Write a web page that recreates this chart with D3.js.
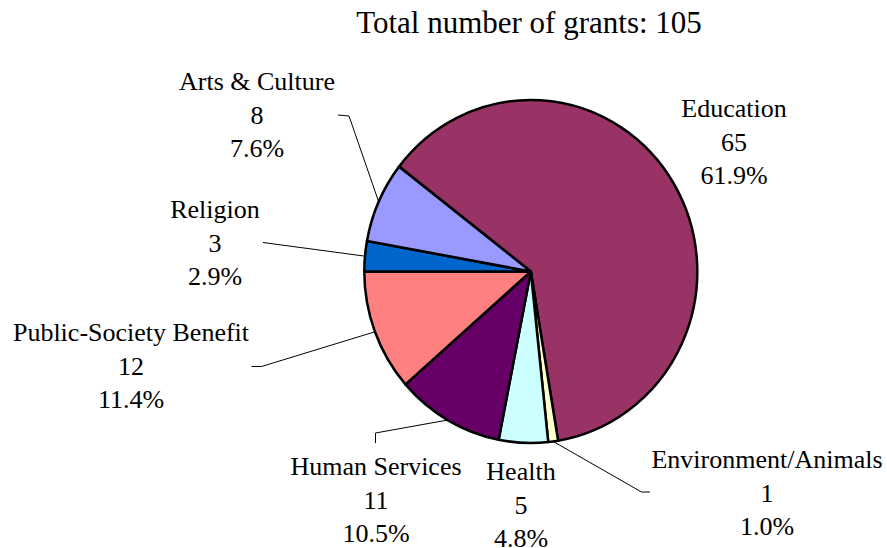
<!DOCTYPE html>
<html>
<head>
<meta charset="utf-8">
<script src="https://cdn.jsdelivr.net/npm/d3@7"></script>
</head>
<body style="margin:0">
<div id="chart"></div>
<script>
// Data
const categories = ["Education", "Environment/Animals", "Health", "Human Services", "Public-Society Benefit", "Religion", "Arts & Culture"];
const grants = [65, 1, 5, 11, 12, 3, 8];
const colors = ["#993366", "#FFFFCC", "#CCFFFF", "#660066", "#FF8080", "#0066CC", "#9999FF"];
const titleText = "Total number of grants: 105";

// Label layout: x center, first baseline, leader line (elbow + end), null = no leader
const labelPos = [
	{ x: 734, y: 117, leader: null },
	{ x: 767, y: 468, leader: [[641.5, 492], [650, 492]] },
	{ x: 521, y: 480, leader: null },
	{ x: 376, y: 475, leader: [[375.5, 433], [375.5, 443]] },
	{ x: 131, y: 341, leader: [[261.5, 366.5], [251.5, 366.5]] },
	{ x: 215, y: 218, leader: [[263, 242.5]] },
	{ x: 257, y: 90, leader: [[349, 116], [338, 115]] }
];

const width = 887, height = 548;
const cx = 530.8, cy = 271.5;
const rx = 166.5, ry = 171.5; // plot area is slightly taller than wide
const lineH = 33.5;

const svg = d3.select("#chart")
	.append("svg")
	.attr("width", width)
	.attr("height", height)
	.style("font-family", `"Times New Roman"`);

const total = d3.sum(grants);
const data = categories.map((c, i) => ({ name: c, value: grants[i], color: colors[i], pos: labelPos[i] }));

const startDeg = 307.7;
const pie = d3.pie()
	.sort(null)
	.value(d => d.value)
	.startAngle(startDeg * Math.PI / 180)
	.endAngle((startDeg + 360) * Math.PI / 180);

const arcs = pie(data);
const arc = d3.arc().innerRadius(0).outerRadius(rx);

const g = svg.append("g")
	.attr("transform", `translate(${cx},${cy}) scale(1,${ry / rx})`);

g.selectAll("path.slice")
	.data(arcs)
	.enter()
	.append("path")
	.attr("class", "slice")
	.attr("d", arc)
	.attr("fill", d => d.data.color)
	.attr("stroke", "#000")
	.attr("stroke-width", 2.5)
	.attr("stroke-linejoin", "round");

// leader lines from the slice edge (mid angle) to the label
const edgePoint = d => {
	const a = (d.startAngle + d.endAngle) / 2;
	return [cx + rx * Math.sin(a), cy - ry * Math.cos(a)];
};

svg.selectAll("path.leader")
	.data(arcs.filter(d => d.data.pos.leader))
	.enter()
	.append("path")
	.attr("class", "leader")
	.attr("d", d => d3.line()([edgePoint(d), ...d.data.pos.leader]))
	.attr("fill", "none")
	.attr("stroke", "#000")
	.attr("stroke-width", 1);

const fmt = d3.format(".1%");

const labels = svg.selectAll("text.label")
	.data(arcs)
	.enter()
	.append("text")
	.attr("class", "label")
	.attr("text-anchor", "middle")
	.style("font-family", `"Times New Roman"`)
	.style("font-size", "26px");

labels.each(function (d) {
	const t = d3.select(this);
	const lines = [d.data.name, d.data.value, fmt(d.data.value / total)];
	lines.forEach((l, i) => {
		t.append("tspan")
			.attr("x", d.data.pos.x)
			.attr("y", d.data.pos.y + i * lineH)
			.text(l);
	});
});

svg.append("text")
	.attr("x", 529)
	.attr("y", 33)
	.attr("text-anchor", "middle")
	.style("font-family", `"Times New Roman"`)
	.style("font-size", "31px")
	.text(titleText);
</script>
</body>
</html>
